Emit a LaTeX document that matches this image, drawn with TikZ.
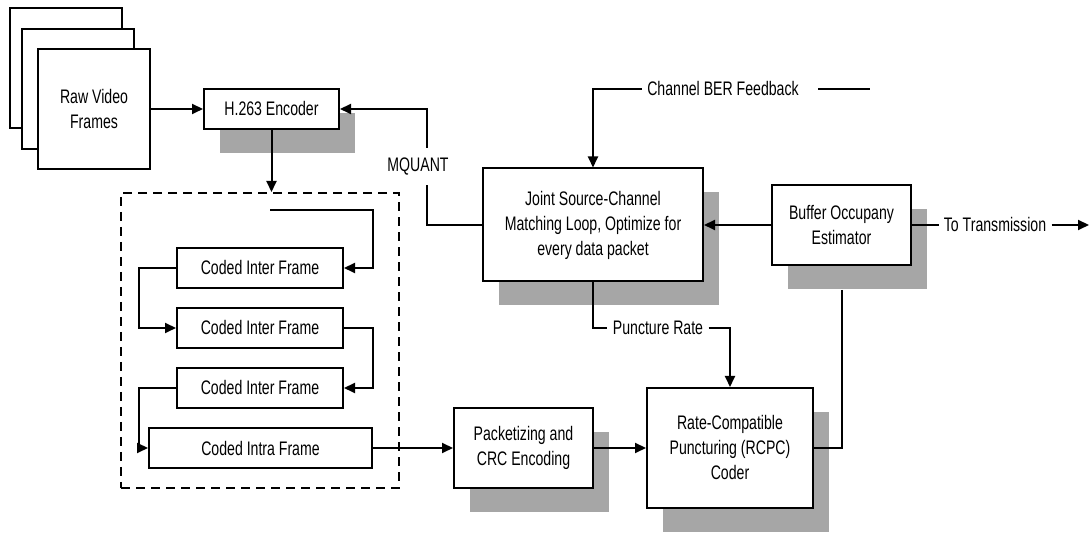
\documentclass[tikz,border=0pt]{standalone}
\usepackage{fontspec}
\setmainfont{Liberation Sans}[FakeStretch=0.72]
\usetikzlibrary{arrows.meta,shadows}

\begin{document}
\begin{tikzpicture}[x=0.5pt, y=-0.5pt, >={Triangle[length=5.5pt,width=5pt]},
  font=\fontsize{9.8}{12.5}\selectfont,
  blk/.style={rectangle, draw, line width=1pt, fill=white, align=center, inner sep=0pt},
  shblk/.style={blk, drop shadow={shadow xshift=8pt, shadow yshift=-12pt, fill=black!35, opacity=1}},
  rawbox/.style={blk, minimum width=56pt, minimum height=60pt},
  frmbox/.style={blk, minimum width=83pt, minimum height=20pt},
  lbl/.style={inner sep=2.5pt},
  edge/.style={->, line width=1pt},
  wire/.style={line width=1pt}
]
\useasboundingbox (0,0) rectangle (1089,533);
% input frames
\node[rawbox] (raw3) at (66,68) {};
\node[rawbox] (raw2) at (78,89) {};
\node[rawbox] (raw) at (94,109) {Raw Video\\Frames};
\node[shblk, minimum width=67.5pt, minimum height=20pt] (enc) at (271.5,109) {H.263 Encoder};
% coded frames
\node[draw, line width=1pt, dash pattern=on 4.5pt off 3pt, minimum width=139pt, minimum height=147.5pt] (grp) at (260,340.5) {};
\node[frmbox] (inter1) at (260,268) {Coded Inter Frame};
\node[frmbox] (inter2) at (260,328) {Coded Inter Frame};
\node[frmbox] (inter3) at (260,388) {Coded Inter Frame};
\node[frmbox, minimum width=111.5pt] (intra) at (260.5,448) {Coded Intra Frame};
\coordinate (lp) at (270,210);
\coordinate (lx) at (139,0);
% main blocks
\node[shblk, minimum width=110pt, minimum height=56.5pt] (joint) at (593,225) {Joint Source-Channel\\Matching Loop, Optimize for\\every data packet};
\node[shblk, minimum width=69.5pt, minimum height=40pt] (buf) at (841.5,225) {Buffer Occupany\\Estimator};
\node[shblk, minimum width=69.5pt, minimum height=40pt] (pack) at (523.5,448) {Packetizing and\\CRC Encoding};
\node[shblk, minimum width=83pt, minimum height=60pt] (rcpc) at (730,448) {Rate-Compatible\\Puncturing (RCPC)\\Coder};
% labels
\node[lbl] (mq) at (418,167) {MQUANT};
\coordinate (mqlo) at (427,185);
\coordinate (mqhi) at (427,148);
\node[lbl] (ber) at (723,89) {Channel BER Feedback};
\coordinate (bera) at (818,89);
\coordinate (berb) at (870,89);
\node[lbl] (tx) at (995,225) {To Transmission};
\coordinate (txend) at (1089,225);
\node[lbl] (pr) at (658,328) {Puncture Rate};
% connectors
\draw[edge] (raw) -- (enc);
\draw[edge] (enc.south) -- (enc.south |- grp.north);
\draw[wire] (joint.west) -| (mqlo);
\draw[edge] (mqhi) |- (enc.east);
\draw[edge] (ber.west) -| (joint.north);
\draw[wire] (bera) -- (berb);
\draw[edge] (buf) -- (joint);
\draw[wire] (buf.east) -- (tx.west);
\draw[edge] (tx.east) -- (txend);
\draw[wire] ([yshift=-12pt]buf.south) |- (rcpc.east);
\draw[wire] (joint.south) |- (pr.west);
\draw[edge] (pr.east) -| (rcpc.north);
\draw[edge] (lp) -| (intra.east |- inter1) -- (inter1);
\draw[edge] (inter1.west) -- (lx |- inter1) |- (inter2.west);
\draw[edge] (inter2.east) -- (intra.east |- inter2) |- (inter3.east);
\draw[edge] (inter3.west) -- (lx |- inter3) |- (intra.west);
\draw[edge] (intra) -- (pack);
\draw[edge] (pack) -- (rcpc);
\end{tikzpicture}
\end{document}
